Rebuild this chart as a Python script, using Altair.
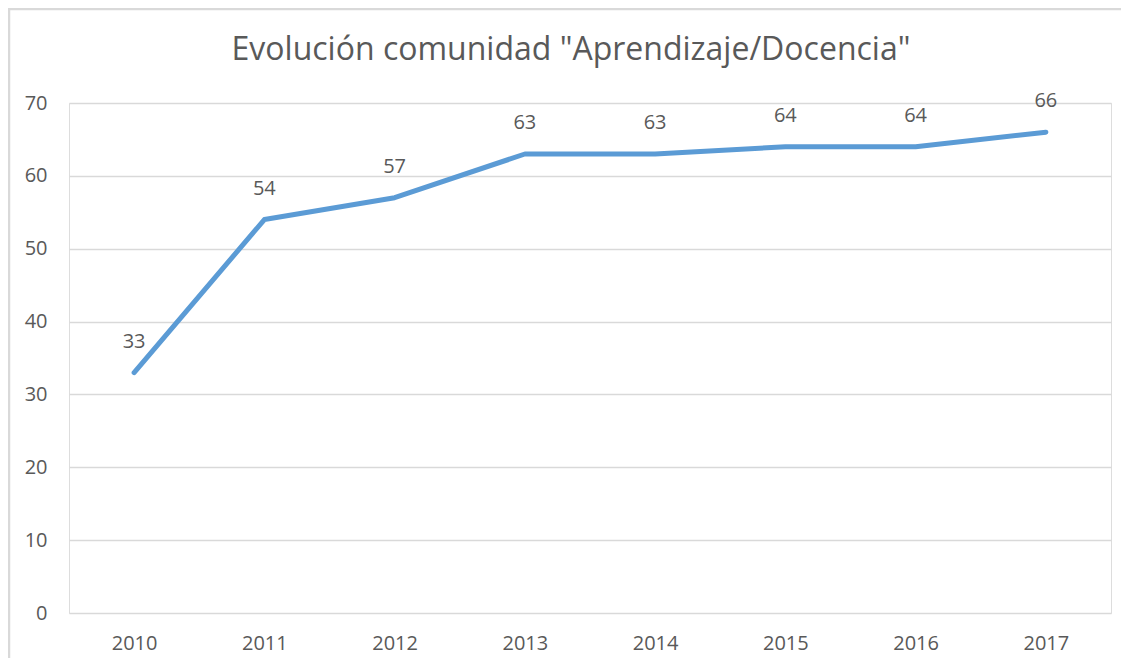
import altair as alt
import pandas as pd

years = ["2010", "2011", "2012", "2013", "2014", "2015", "2016", "2017"]
values = [33, 54, 57, 63, 63, 64, 64, 66]

df = pd.DataFrame({"year": years, "value": values})

W, H = 1042, 510
FONT = "Open Sans"
GRAY = "#595959"
BORDER = "#D9D9D9"

x_enc = alt.X("year:O", scale=alt.Scale(type="point", padding=0.5), sort=years,
              axis=alt.Axis(title=None, labelAngle=0, labelFontSize=20, labelFont=FONT,
                            labelColor=GRAY, tickSize=0, domain=False, grid=False,
                            labelPadding=20))
y_enc = alt.Y("value:Q", scale=alt.Scale(domain=[0, 70]),
              axis=alt.Axis(title=None, values=[0, 10, 20, 30, 40, 50, 60, 70],
                            labelFontSize=20, labelFont=FONT, labelColor=GRAY,
                            tickSize=0, domain=False, grid=True, gridColor="#D9D9D9",
                            gridWidth=1.5, labelPadding=22))

one = pd.DataFrame({"a": [0]})
border_left = alt.Chart(one).mark_rule(stroke=BORDER, strokeWidth=2.5).encode(
    x=alt.value(-60), y=alt.value(-94), y2=alt.value(H + 100))
border_top = alt.Chart(one).mark_rule(stroke=BORDER, strokeWidth=2.5).encode(
    y=alt.value(-94), x=alt.value(-61), x2=alt.value(W + 100))

line = alt.Chart(df).mark_line(color="#5B9BD5", strokeWidth=5, strokeCap="round",
                               strokeJoin="round").encode(x=x_enc, y=y_enc)

labels = alt.Chart(df).mark_text(font=FONT, fontSize=20, color=GRAY, dy=-31,
                                 baseline="middle").encode(
    x=alt.X("year:O", sort=years), y="value:Q", text="value:Q")

chart = alt.layer(border_left, border_top, line, labels).properties(
    width=W, height=H,
    title=alt.TitleParams('Evolución comunidad "Aprendizaje/Docencia"', font=FONT,
                          fontSize=32, fontWeight="normal", color=GRAY, anchor="middle",
                          offset=0, dy=59, dx=-19),
    autosize=alt.AutoSizeParams(type="none"),
    padding={"left": 61, "top": 95, "right": 10, "bottom": 45},
).configure_view(strokeWidth=0).configure(background="white")

chart.save("out.html", embed_options={"renderer": "svg", "actions": False})
